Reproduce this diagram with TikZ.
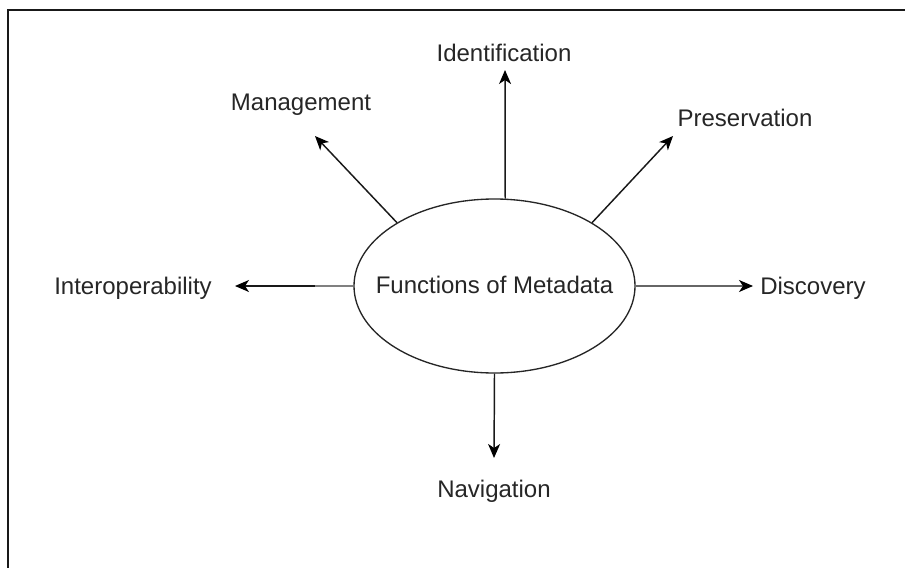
\documentclass[tikz,border=0pt]{standalone}
\usepackage{fontspec}
\setmainfont{Liberation Sans}
\usetikzlibrary{shapes.geometric,arrows.meta}
\begin{document}
\begin{tikzpicture}[x=0.75pt,y=-0.75pt,
  txt/.style={font=\fontsize{18}{20}\selectfont, text=black!85, inner sep=0pt},
  label/.style={txt, anchor=base},
  conn/.style={line width=1.1pt, draw=black!90},
  tip/.style={-{Stealth[length=10.5pt,width=9pt,inset=3pt,black]}},
  hub/.style={ellipse, draw=black!85, line width=1pt, fill=white,
    minimum width=210.75pt, minimum height=130.5pt, inner sep=0pt}]
  \useasboundingbox (0,0) rectangle (905,567);
  \clip (0,0) rectangle (905,567);
  \fill[white] (0,0) rectangle (905,567);
  % outer frame (runs past the right and bottom edges)
  \draw[line width=1.6pt, black!90] (8,10) rectangle (920,590);

  % central ellipse and its caption
  \node[hub] (core) at (494.5,286) {};
  \node[label] (coretext) at (494.5,293) {Functions of Metadata};

  % labels
  \node[label] (ident) at (504,61)  {Identification};
  \node[label] (mgmt)  at (301,110) {Management};
  \node[label] (pres)  at (745,126) {Preservation};
  \node[label] (inter) at (133,294) {Interoperability};
  \node[label] (disc)  at (813,294) {Discovery};
  \node[label] (navi)  at (494,497) {Navigation};

  % arrow tips
  \coordinate (identtip) at (505,70);
  \coordinate (mgmttip)  at (315,136);
  \coordinate (prestip)  at (673,136);
  \coordinate (intertip) at (235,286);
  \coordinate (interbrk) at (315,286);
  \coordinate (disctip)  at (753,286);
  \coordinate (navitip)  at (494,458);

  % connectors
  \draw[conn,tip] (core.83) -- (identtip);
  \draw[conn,tip] (core.147) -- (mgmttip);
  \draw[conn,tip] (core.33) -- (prestip);
  \draw[conn,tip] (core.west) -- (intertip);
  \draw[line width=1.1pt, black!50] (core.west) -- (interbrk);
  \draw[conn,tip,draw=black!60] (core.east) -- (disctip);
  \draw[conn,tip] (core.south) -- (navitip);
\end{tikzpicture}
\end{document}
